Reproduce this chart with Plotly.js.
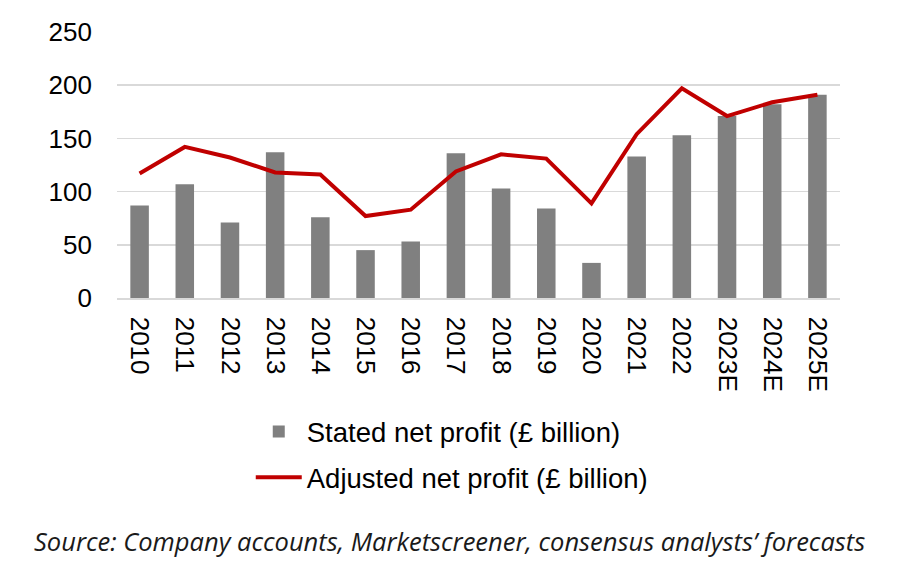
<!DOCTYPE html>
<html>
<head>
<meta charset="utf-8">
<script src="https://cdn.plot.ly/plotly-3.0.1.min.js"></script>
<style>html,body{margin:0;padding:0;background:#fff;}#chart{width:900px;height:570px;}</style>
</head>
<body>
<div id="chart"></div>
<script>
const years = ["2010","2011","2012","2013","2014","2015","2016","2017","2018","2019","2020","2021","2022","2023E","2024E","2025E"];
const statedNetProfit = [87, 107, 71, 137, 76, 45, 53, 136, 103, 84, 33, 133, 153, 171, 182, 191];
const adjustedNetProfit = [117, 142, 132, 118, 116, 77, 83, 119, 135, 131, 89, 154, 197, 171, 184, 191];
const yTicks = [0, 50, 100, 150, 200, 250];

const traces = [
  {
    type: "bar",
    x: years,
    y: statedNetProfit,
    name: "Stated net profit (£ billion)",
    legendgroup: "a",
    marker: {color: "#808080"},
    hoverinfo: "x+y"
  },
  {
    type: "scatter",
    mode: "lines",
    x: years,
    y: adjustedNetProfit,
    name: "Adjusted net profit (£ billion)",
    legendgroup: "b",
    line: {color: "#C00000", width: 4},
    hoverinfo: "x+y"
  }
];

const layout = {
  width: 900,
  height: 570,
  margin: {l: 117, r: 60, t: 32, b: 272},
  paper_bgcolor: "#ffffff",
  plot_bgcolor: "#ffffff",
  font: {family: "Liberation Sans, Arial, sans-serif", size: 26, color: "#000000"},
  bargap: 0.59,
  showlegend: true,
  legend: {
    orientation: "v",
    x: 0.185,
    xanchor: "left",
    y: 1 - (407 - 32) / 266,
    yanchor: "top",
    itemwidth: 46,
    tracegroupgap: 7,
    traceorder: "grouped",
    font: {family: "Liberation Sans, Arial, sans-serif", size: 27.5, color: "#000000"},
    bgcolor: "rgba(0,0,0,0)"
  },
  xaxis: {
    type: "category",
    tickangle: 90,
    showgrid: false,
    showline: true,
    linecolor: "#d9d9d9",
    linewidth: 1.5,
    ticks: "",
    ticklabelstandoff: 12,
    tickfont: {family: "Liberation Sans, Arial, sans-serif", size: 26, color: "#000000"},
    fixedrange: true
  },
  yaxis: {
    range: [0, 250],
    tickvals: yTicks,
    ticktext: yTicks.map(String),
    showgrid: true,
    gridcolor: "#d9d9d9",
    gridwidth: 1.5,
    zeroline: false,
    showline: false,
    ticks: "",
    ticklabelstandoff: 24,
    tickfont: {family: "Liberation Sans, Arial, sans-serif", size: 26, color: "#000000"},
    fixedrange: true
  },
  annotations: [
    {
      text: "Source: Company accounts, Marketscreener, consensus analysts’ forecasts",
      xref: "paper", yref: "paper",
      x: (32 - 117) / 723, xanchor: "left",
      y: 1 - (541 - 32) / 266, yanchor: "middle",
      showarrow: false,
      font: {family: "Open Sans, sans-serif", size: 25.5, color: "#1a1a1a", style: "italic"}
    }
  ]
};

Plotly.newPlot("chart", traces, layout, {displayModeBar: false, staticPlot: true});
</script>
</body>
</html>
